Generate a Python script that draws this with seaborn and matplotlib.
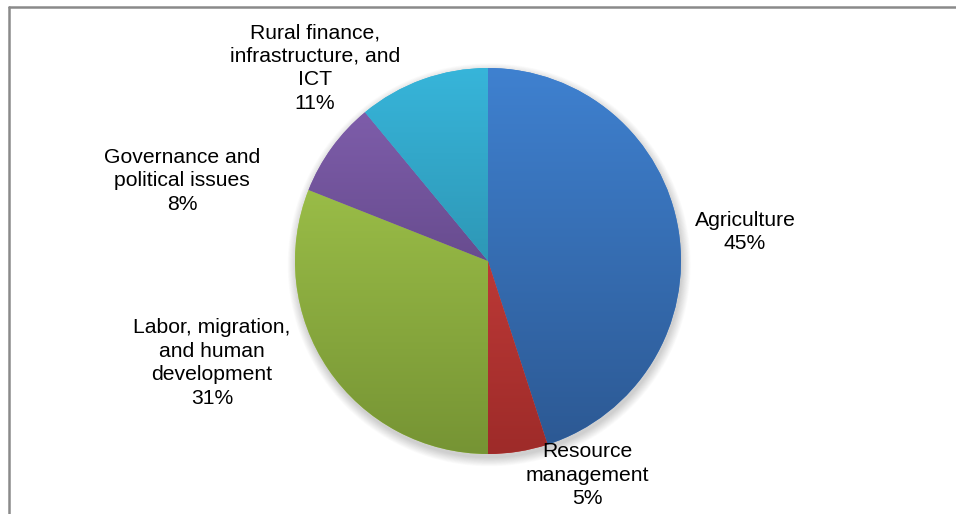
import numpy as np
import matplotlib
matplotlib.use("Agg")
import matplotlib.pyplot as plt
from matplotlib.colors import to_rgb
from matplotlib.patches import Circle
from matplotlib.lines import Line2D
import seaborn as sns

# Share of research topics
categories = [
    "Agriculture",
    "Resource\nmanagement",
    "Labor, migration,\nand human\ndevelopment",
    "Governance and\npolitical issues",
    "Rural finance,\ninfrastructure, and\nICT",
]
shares = [45, 5, 31, 8, 11]

# Vertical gradient (top colour, bottom colour) for each slice
top_colors = ["#3f81d0", "#da4744", "#aacf50", "#8462b2", "#37b5da"]
bottom_colors = ["#2c5892", "#9e2b29", "#769434", "#4c366c", "#257a92"]

# Label centres in data units (pie radius = 1)
label_xy = [(1.332, 0.150), (0.513, -1.109), (-1.430, -0.528),
            (-1.585, 0.415), (-0.896, 1.000)]

sns.set_theme(style="white")
plt.rcParams["font.family"] = ["Liberation Sans", "DejaVu Sans"]

W, H, DPI = 956, 514, 100
fig = plt.figure(figsize=(W / DPI, H / DPI), dpi=DPI)
fig.patch.set_facecolor("white")

# Pie geometry in pixels
R_PX, CX, CY = 193, 488, 261
ax = fig.add_axes([0, 0, 1, 1])

# soft drop shadow under the pie
for k in range(12):
    r = 1.0 + 0.004 * k
    ax.add_patch(Circle((0.006, -0.02), r, facecolor="black",
                        edgecolor="none", alpha=0.014, zorder=0))

wedges, _ = ax.pie(shares, startangle=90, counterclock=False,
                   radius=1, center=(0, 0),
                   colors=top_colors,
                   wedgeprops=dict(linewidth=0))

t = np.linspace(0, 1, 256)[:, None]
for w, c0, c1 in zip(wedges, top_colors, bottom_colors):
    w.set_zorder(2)
    a = np.array(to_rgb(c0))
    b = np.array(to_rgb(c1))
    grad = (a[None, :] * (1 - t) + b[None, :] * t)[:, None, :]
    im = ax.imshow(grad, extent=(-1, 1, -1, 1), origin="upper",
                   aspect="auto", interpolation="bilinear", zorder=3)
    im.set_clip_path(w)

for name, v, (x, y) in zip(categories, shares, label_xy):
    ax.text(x, y, f"{name}\n{v}%", ha="center", va="center",
            fontsize=15.2, color="black", linespacing=1.3, zorder=5)

ax.set_xlim(-CX / R_PX, (W - CX) / R_PX)
ax.set_ylim(-(H - CY) / R_PX, CY / R_PX)
ax.set_aspect("auto")
ax.axis("off")

# chart area frame (top and left edges visible)
fx, fy = 8.5 / W, 1 - 6.5 / H
fig.add_artist(Line2D([fx, 1.0], [fy, fy], color="#8a8a8a", lw=1.8,
                      transform=fig.transFigure))
fig.add_artist(Line2D([fx, fx], [0.0, fy], color="#8a8a8a", lw=1.8,
                      transform=fig.transFigure))

fig.savefig("out.png", dpi=DPI, facecolor="white")
